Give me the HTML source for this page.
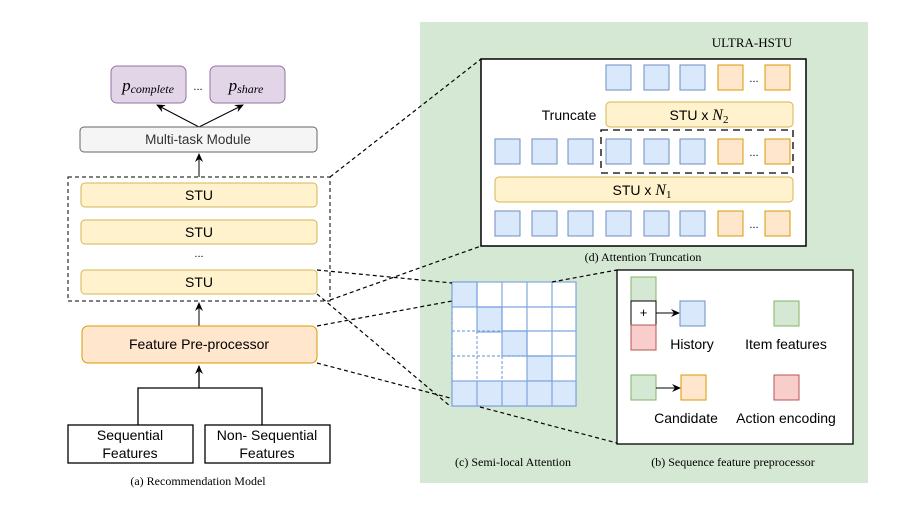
<!DOCTYPE html>
<html><head><meta charset="utf-8"><style>
body{margin:0;background:#fff;}
svg{display:block;font-family:"Liberation Sans",sans-serif;}
.s{font-family:"Liberation Serif",serif;}
</style></head><body>
<svg width="905" height="523" viewBox="0 0 905 523" xmlns="http://www.w3.org/2000/svg">
<defs><marker id="a" markerWidth="10" markerHeight="10" refX="8" refY="5" orient="auto" markerUnits="userSpaceOnUse"><path d="M0,1 L9,5 L0,9 L3,5 Z" fill="#000"/></marker></defs>
<rect x="420" y="22" width="448" height="461" fill="#d5e8d4"/>
<text x="752" y="47" class="s" font-size="13" text-anchor="middle">ULTRA-HSTU</text>
<rect x="481" y="59" width="325" height="187" fill="#fff" stroke="#000" stroke-width="1.5"/>
<g stroke="#6c8ebf" fill="#dae8fc">
<rect x="606" y="65" width="25" height="25"/><rect x="644" y="65" width="25" height="25"/><rect x="680" y="65" width="25" height="25"/>
<rect x="495" y="139" width="25" height="25"/><rect x="532" y="139" width="25" height="25"/><rect x="568" y="139" width="25" height="25"/>
<rect x="606" y="139" width="25" height="25"/><rect x="644" y="139" width="25" height="25"/><rect x="680" y="139" width="25" height="25"/>
<rect x="495" y="211" width="25" height="25"/><rect x="532" y="211" width="25" height="25"/><rect x="568" y="211" width="25" height="25"/>
<rect x="606" y="211" width="25" height="25"/><rect x="644" y="211" width="25" height="25"/><rect x="680" y="211" width="25" height="25"/>
</g>
<g stroke="#d79b00" fill="#ffe6cc">
<rect x="718" y="65" width="25" height="25"/><rect x="765" y="65" width="25" height="25"/>
<rect x="718" y="139" width="25" height="25"/><rect x="765" y="139" width="25" height="25"/>
<rect x="718" y="211" width="25" height="25"/><rect x="765" y="211" width="25" height="25"/>
</g>
<g font-size="11" text-anchor="middle"><text x="754" y="82">...</text><text x="754" y="156">...</text><text x="754" y="228">...</text></g>
<rect x="606" y="102" width="187" height="25" rx="4" fill="#fff2cc" stroke="#d6b656"/>
<text x="699" y="120" font-size="14" text-anchor="middle">STU x <tspan class="s" font-style="italic" font-size="16">N</tspan><tspan class="s" font-size="11" dy="3">2</tspan></text>
<text x="569" y="120" font-size="14" text-anchor="middle">Truncate</text>
<rect x="601" y="130" width="192" height="43" fill="none" stroke="#000" stroke-width="1.3" stroke-dasharray="7,5"/>
<rect x="495" y="177" width="298" height="25" rx="4" fill="#fff2cc" stroke="#d6b656"/>
<text x="642" y="195" font-size="14" text-anchor="middle">STU x <tspan class="s" font-style="italic" font-size="16">N</tspan><tspan class="s" font-size="11" dy="3">1</tspan></text>
<text x="643" y="261" class="s" font-size="12" text-anchor="middle">(d) Attention Truncation</text>
<g stroke="#7ea6e0" stroke-width="1.2">
<rect x="452" y="282" width="124" height="124" fill="#fff"/>
<rect x="452" y="282" width="25" height="25" fill="#dae8fc"/>
<rect x="477" y="307" width="25" height="25" fill="#dae8fc"/>
<rect x="502" y="331" width="25" height="25" fill="#dae8fc"/>
<rect x="527" y="356" width="25" height="25" fill="#dae8fc"/>
<rect x="452" y="381" width="124" height="25" fill="#dae8fc"/>
<line x1="477" y1="282" x2="477" y2="307"/><line x1="502" y1="282" x2="502" y2="331"/><line x1="527" y1="282" x2="527" y2="356"/><line x1="552" y1="282" x2="552" y2="406"/>
<line x1="477" y1="307" x2="576" y2="307"/><line x1="502" y1="331" x2="576" y2="331"/><line x1="527" y1="356" x2="576" y2="356"/>
<line x1="477" y1="381" x2="477" y2="406"/><line x1="502" y1="381" x2="502" y2="406"/><line x1="527" y1="381" x2="527" y2="406"/>
</g>
<g stroke="#7ea6e0" stroke-width="1.2" stroke-dasharray="3,2">
<line x1="452" y1="307" x2="452" y2="381"/><line x1="477" y1="331" x2="477" y2="381"/><line x1="502" y1="356" x2="502" y2="381"/>
<line x1="452" y1="331" x2="502" y2="331"/><line x1="452" y1="356" x2="527" y2="356"/>
</g>
<text x="513" y="466" class="s" font-size="12" text-anchor="middle">(c) Semi-local Attention</text>
<rect x="617" y="270" width="236" height="174" fill="#fff" stroke="#000" stroke-width="1.3"/>
<rect x="631" y="277" width="25" height="24" fill="#d5e8d4" stroke="#82b366"/>
<rect x="631" y="301" width="25" height="24" fill="#fff" stroke="#000"/>
<text x="643.5" y="317" font-size="13" text-anchor="middle">+</text>
<rect x="631" y="325" width="25" height="25" fill="#f8cecc" stroke="#b85450"/>
<line x1="656" y1="313" x2="679" y2="313" stroke="#000" marker-end="url(#a)"/>
<rect x="680" y="301" width="25" height="25" fill="#dae8fc" stroke="#6c8ebf"/>
<rect x="774" y="301" width="25" height="25" fill="#d5e8d4" stroke="#82b366"/>
<text x="692" y="349" font-size="14" text-anchor="middle">History</text>
<text x="786" y="349" font-size="14" text-anchor="middle">Item features</text>
<rect x="631" y="375" width="25" height="25" fill="#d5e8d4" stroke="#82b366"/>
<line x1="656" y1="388" x2="680" y2="388" stroke="#000" marker-end="url(#a)"/>
<rect x="681" y="375" width="25" height="25" fill="#ffe6cc" stroke="#d79b00"/>
<rect x="774" y="375" width="25" height="25" fill="#f8cecc" stroke="#b85450"/>
<text x="686" y="423" font-size="14" text-anchor="middle">Candidate</text>
<text x="786" y="423" font-size="14" text-anchor="middle">Action encoding</text>
<text x="733" y="466" class="s" font-size="12" text-anchor="middle">(b) Sequence feature preprocessor</text>
<rect x="111" y="66" width="75" height="37" rx="6" fill="#e1d5e7" stroke="#9673a6"/>
<text x="148" y="91" class="s" font-style="italic" font-size="17" text-anchor="middle">p<tspan font-size="12" dy="2">complete</tspan></text>
<rect x="210" y="66" width="75" height="37" rx="6" fill="#e1d5e7" stroke="#9673a6"/>
<text x="246" y="91" class="s" font-style="italic" font-size="17" text-anchor="middle">p<tspan font-size="12" dy="2">share</tspan></text>
<text x="198" y="90" font-size="11" text-anchor="middle">...</text>
<line x1="199" y1="127" x2="157" y2="105" stroke="#000" marker-end="url(#a)"/>
<line x1="199" y1="127" x2="243" y2="105" stroke="#000" marker-end="url(#a)"/>
<rect x="80" y="127" width="237" height="25" rx="4" fill="#f5f5f5" stroke="#666"/>
<text x="198" y="144" font-size="13.5" text-anchor="middle" fill="#333">Multi-task Module</text>
<line x1="199" y1="177" x2="199" y2="154" stroke="#000" marker-end="url(#a)"/>
<rect x="68" y="177" width="262" height="124" fill="none" stroke="#000" stroke-dasharray="4,3"/>
<g fill="#fff2cc" stroke="#d6b656">
<rect x="81" y="183" width="236" height="24" rx="4"/><rect x="81" y="220" width="236" height="24" rx="4"/><rect x="81" y="270" width="236" height="24" rx="4"/>
</g>
<g font-size="14" text-anchor="middle"><text x="199" y="200">STU</text><text x="199" y="237">STU</text><text x="199" y="287">STU</text></g>
<text x="199" y="257" font-size="11" text-anchor="middle">...</text>
<line x1="199" y1="326" x2="199" y2="303" stroke="#000" marker-end="url(#a)"/>
<rect x="82" y="326" width="235" height="37" rx="6" fill="#ffe6cc" stroke="#d79b00"/>
<text x="199" y="349" font-size="14" text-anchor="middle">Feature Pre-processor</text>
<path d="M138,425 V388 H262 V425" fill="none" stroke="#000" stroke-width="1.3"/>
<line x1="199" y1="388" x2="199" y2="366" stroke="#000" stroke-width="1.3" marker-end="url(#a)"/>
<rect x="68" y="425" width="125" height="38" fill="#fff" stroke="#000" stroke-width="1.3"/>
<rect x="205" y="425" width="125" height="38" fill="#fff" stroke="#000" stroke-width="1.3"/>
<g font-size="14" text-anchor="middle"><text x="130" y="440">Sequential</text><text x="130" y="458">Features</text><text x="267" y="440">Non- Sequential</text><text x="267" y="458">Features</text></g>
<text x="198" y="485" class="s" font-size="12" text-anchor="middle">(a) Recommendation Model</text>
<g stroke="#000" stroke-width="1.2" stroke-dasharray="4,3" fill="none">
<line x1="330" y1="177" x2="481" y2="59"/>
<line x1="330" y1="300" x2="481" y2="246"/>
<line x1="317" y1="270" x2="452" y2="283"/>
<line x1="317" y1="294" x2="450" y2="406"/>
<line x1="317" y1="326" x2="452" y2="301"/>
<line x1="317" y1="363" x2="450" y2="398"/>
<line x1="552" y1="282" x2="617" y2="270"/>
<line x1="480" y1="407" x2="617" y2="443"/>
</g>
</svg>
</body></html>
